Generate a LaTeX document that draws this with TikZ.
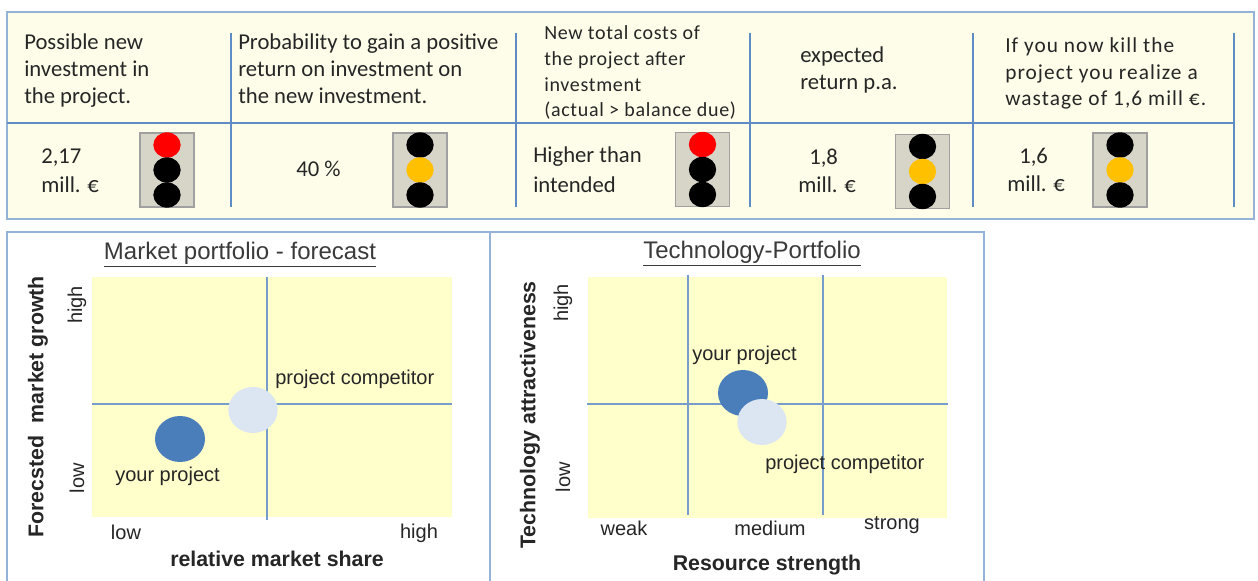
\documentclass[tikz,border=0pt]{standalone}
\usepackage{fontspec}
\setmainfont{Carlito}
\newfontfamily\arialf{Liberation Sans}
\usetikzlibrary{shapes.geometric}
\definecolor{boxborder}{HTML}{95B3D7}
\definecolor{divcol}{HTML}{5F8CC4}
\definecolor{cream}{HTML}{FEFDEA}
\definecolor{plotyellow}{HTML}{FFFFCC}
\definecolor{tlfill}{HTML}{D7D4C8}
\definecolor{tlborder}{HTML}{A0A0A0}
\definecolor{tred}{HTML}{FF0000}
\definecolor{tyellow}{HTML}{FFC000}
\definecolor{darkblue}{HTML}{4A7EBB}
\definecolor{paleblue}{HTML}{DCE6F2}
\definecolor{txt}{HTML}{262626}
\definecolor{ttlcol}{HTML}{3A3A3A}
\newcommand\tlight[6]{%
  \node[tlbox] (#1) at (#2,#3) {};
  \node[lamp, fill=#4] (#1-a) at (#2,#3-25) {};
  \node[lamp, fill=#5] (#1-b) at (#2,#3) {};
  \node[lamp, fill=#6] (#1-c) at (#2,#3+25) {};
}
\begin{document}
\begin{tikzpicture}[x=0.75pt,y=-0.75pt,
  outerbox/.style={draw=boxborder, line width=1.6pt},
  divider/.style={draw=divcol, line width=1.1pt},
  plotline/.style={draw=divcol!85, line width=1.1pt},
  tlbox/.style={draw=tlborder, fill=tlfill, line width=0.9pt, minimum width=40.5pt, minimum height=55.5pt, inner sep=0},
  lamp/.style={ellipse, minimum width=20.5pt, minimum height=19pt, inner sep=0},
  hdr/.style={anchor=base west, inner sep=0, align=left, text=txt, font=\fontsize{17}{20.25}\selectfont},
  hdrsmall/.style={anchor=base west, inner sep=0, align=left, text=txt, font=\fontsize{15}{19.3}\selectfont\addfontfeature{LetterSpace=3.5}},
  hdrmid/.style={anchor=base west, inner sep=0, align=left, text=txt, font=\fontsize{16}{19.9}\selectfont\addfontfeature{LetterSpace=5}},
  val/.style={anchor=base west, inner sep=0, text=txt, font=\fontsize{17}{20}\selectfont},
  lbl/.style={inner sep=0, text=txt, font=\arialf\fontsize{15}{18}\selectfont},
  axislbl/.style={inner sep=0, text=txt, font=\arialf\bfseries\fontsize{16}{19}\selectfont},
  ttl/.style={inner sep=0, text=ttlcol, font=\arialf\fontsize{18}{21}\selectfont},
  bubbledark/.style={ellipse, fill=darkblue, minimum width=37.5pt, minimum height=34.5pt, inner sep=0},
  bubblelight/.style={ellipse, fill=paleblue, minimum width=37pt, minimum height=34.5pt, inner sep=0}
]
\useasboundingbox[fill=white] (0,0) rectangle (1258,581);

% ---------- top table ----------
\draw[outerbox, fill=cream] (7,12) rectangle (1254,219);
\draw[divider] (7,123) -- (1234,123);
\foreach \xx in {231,516,750,973,1234} \draw[divider] (\xx,33) -- (\xx,207);

% multi-line nodes: base anchor = baseline of the last line
\node[hdr] (h1) at (24,104) {Possible new\\investment in\\the project.};
\node[hdr] (h2) at (238,104) {Probability to gain a positive\\return on investment on\\the new investment.};
\node[hdrsmall] (h3) at (544,117) {New total costs of\\the project after\\investment\\(actual > balance due)};
\node[hdr] (h4) at (800,90) {expected\\return p.a.};
\node[hdrmid] (h5) at (1005,106) {If you now kill the\\project you realize a\\wastage of 1,6 mill €.};

\node[val] (v1a) at (41,164) {2,17};
\node[val] (v1b) at (41,193) {mill. €};
\node[val] (v2) at (296,177) {40 \%};
\node[val] (v3a) at (533,163) {Higher than};
\node[val] (v3b) at (533,193) {intended};
\node[val] (v4a) at (809,165) {1,8};
\node[val] (v4b) at (798,193) {mill. €};
\node[val] (v5a) at (1019,164) {1,6};
\node[val] (v5b) at (1007,192) {mill. €};

\tlight{t1}{167}{170}{tred}{black}{black}
\tlight{t2}{420}{170}{black}{tyellow}{black}
\tlight{t3}{702.5}{169.5}{tred}{black}{black}
\tlight{t4}{922.5}{171.5}{black}{tyellow}{black}
\tlight{t5}{1120}{170}{black}{tyellow}{black}

% ---------- bottom panels ----------
\draw[outerbox] (7,590) -- (7,232) -- (490,232) -- (490,590);
\draw[outerbox] (490,232) -- (984,232) -- (984,590);

% left: market portfolio
\fill[plotyellow] (92,277) rectangle (452,517);
\draw[plotline] (267,277) -- (267,520);
\draw[plotline] (92,404) -- (452,404);
\node[bubblelight] (mcomp) at (253,410) {};
\node[bubbledark] (mown) at (180,439) {};
\node[ttl] (mtitle) at (240,255) {\underline{Market portfolio - forecast}};
\node[lbl, anchor=base west] (mcompl) at (275,384) {project competitor};
\node[lbl, anchor=base west] (mownl) at (115,481) {your project};
\node[lbl, rotate=90] (mhigh) at (77,305) {high};
\node[lbl, rotate=90] (mlow) at (77,478) {low};
\node[axislbl, rotate=90] (my) at (38,407) {Forecsted\hspace{0.6em}market growth};
\node[lbl] (mxl) at (126,532) {low};
\node[lbl] (mxh) at (419,533) {high};
\node[axislbl] (mx) at (277,559) {relative market share};

% right: technology portfolio
\fill[plotyellow] (588,277) rectangle (947,518);
\draw[plotline] (688,275) -- (688,515);
\draw[plotline] (823,275) -- (823,515);
\draw[plotline] (587,404) -- (948,404);
\node[bubbledark] (town) at (743,393) {};
\node[bubblelight] (tcomp) at (762,422) {};
\node[ttl] (ttitle) at (752,254) {\underline{Technology-Portfolio}};
\node[lbl, anchor=base west] (townl) at (692,360) {your project};
\node[lbl, anchor=base west] (tcompl) at (765,469) {project competitor};
\node[lbl, rotate=90] (thigh) at (563,303) {high};
\node[lbl, rotate=90] (tlow) at (563,477) {low};
\node[axislbl, rotate=90] (ty) at (530,415) {Technology attractiveness};
\node[lbl] (tweak) at (624,528) {weak};
\node[lbl] (tmed) at (770,528) {medium};
\node[lbl] (tstrong) at (892,525) {strong};
\node[axislbl] (tx) at (767,565) {Resource strength};
\end{tikzpicture}
\end{document}
